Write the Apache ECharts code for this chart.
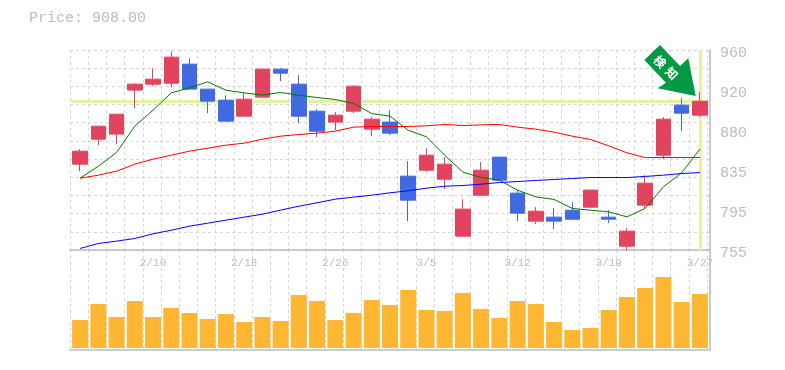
<!DOCTYPE html>
<html>
<head>
<meta charset="utf-8">
<style>html,body{margin:0;padding:0;background:#fff}#c{width:785px;height:370px}</style>
<script src="https://cdn.jsdelivr.net/npm/echarts@6/dist/echarts.min.js"></script>
</head>
<body>
<div id="c"></div>
<script>
const dates = ['2/4','2/5','2/6','2/7','2/10','2/12','2/13','2/14','2/17','2/18','2/19','2/20','2/21','2/25','2/26','2/27','2/28','3/2','3/4','3/5','3/6','3/9','3/10','3/11','3/12','3/13','3/16','3/17','3/18','3/19','3/23','3/24','3/25','3/26','3/27'];
const opens = [843.5,869.1,874.3,919.4,925.5,926.5,946,920.4,909.1,892.7,912.2,940.9,925.5,897.8,886.6,897.8,879.4,886.6,831.2,837.3,828.1,769.7,811.7,850.7,813.8,785.1,789.2,796.3,799.4,789.2,759.4,801.5,852.7,904,893.7];
const closes = [856.8,882.4,894.7,925.5,930.6,953.2,920.4,908.1,887.6,910.1,940.9,936.8,892.7,877.3,893.7,923.4,889.6,875.3,806.6,852.7,843.5,797.4,837.3,827.1,793.3,795.3,785.1,787.1,816.9,787.1,774.8,824,889.6,895.8,908];
const lows = [836.3,863,864,900.9,923.4,922.4,920.4,895.8,887.6,892.7,912.2,928.6,885.5,871.2,878.4,895.8,872.2,873.2,785.1,835.3,817.9,769.7,810.7,827.1,785.1,782,776.9,787.1,798.4,783,755,798.4,848.6,877.3,891.7];
const highs = [858.9,882.4,894.7,926.5,941.9,959.3,952.2,920.4,914.2,916.3,940.9,941.9,934.7,899.9,896.8,924.5,891.7,898.8,846.6,859.9,850.7,807.6,845.6,850.7,816.9,799.4,798.4,804.5,816.9,796.3,777.9,832.2,891.7,911.1,917.3];
const maShort = [829.1,841.4,855.5,882.4,898.8,916.6,921.7,927.9,919.3,916.6,914.2,917,914.2,911.8,909.8,905.7,895.4,892.7,878.3,871.5,852.7,835.3,829.8,827.1,816.8,810,807.3,798.1,796.3,794.6,789.5,798.1,820.3,834.6,858.9];
const maMid = [829.1,832.2,836.3,843.5,848.6,852.7,856.8,859.9,863,865,869.1,872.2,873.9,875.3,877.3,881.4,882.1,882.1,882.1,882.8,884.2,883.1,883.8,884.2,881.4,879.4,876.3,872.2,868.8,862.3,855.1,850.3,850.3,850.3,850.3];
const maLong = [757.1,762.2,764.6,767.3,772.1,775.8,779.9,783,786.1,789.2,792.2,796.4,800.4,803.9,807.6,809.7,811.7,814.1,816.2,818.9,820.9,821.6,823,824.7,825.7,826.8,827.8,828.8,829.8,829.8,829.8,830.9,832.2,833.9,834.9];
const volumes = [28,44,31,47,31,40,35,29,34,26,31,27,53,47,28,35,48,43,58,38,37,55,39,30,47,44,26,18,20,38,51,60,71,46,54];
const priceTicks = ['755','795','835','880','920','960'];
const lastPrice = 908;
const labelledDates = ['2/10','2/18','2/26','3/5','3/12','3/19','3/27'];
const arrowWords = ['検','知'];

const GRAY = '#bcbcbc', DASH = '#d6d6d6', MONO = '"Liberation Mono", monospace';
const dashed = {show:true, lineStyle:{color:DASH, type:[3,3], width:1}};
const candleData = opens.map((o,i)=>[o,closes[i],lows[i],highs[i]]);

const chart = echarts.init(document.getElementById('c'), null, {renderer:'canvas'});
const hiddenCat = {type:'category', data:dates, axisLine:{show:false}, axisTick:{show:false}, axisLabel:{show:false}, splitLine:{show:false}};
const frameX = {type:'value', min:0, max:35.16, interval:1, axisLine:{show:true, onZero:false, lineStyle:{color:GRAY, width:1.5}}, axisTick:{show:false}, axisLabel:{show:false}, splitLine:dashed};

chart.setOption({
  animation:false,
  backgroundColor:'#fff',
  title:{text:'Price: '+lastPrice.toFixed(2), left:24, top:6, textStyle:{color:GRAY, fontFamily:MONO, fontWeight:'normal', fontSize:15}},
  grid:[
    {left:71, top:50.5, width:638, height:200},
    {left:71, top:250, width:638, height:100},
    {left:70, top:50, width:640, height:200},
    {left:70, top:250, width:640, height:100},
    {left:70, top:53, width:640, height:200}
  ],
  xAxis:[
    {...hiddenCat, gridIndex:0},
    {...hiddenCat, gridIndex:1, position:'top',
      axisLabel:{show:true, inside:true, margin:8, color:GRAY, fontFamily:MONO, fontSize:11, hideOverlap:false,
        interval:(i,v)=>labelledDates.includes(v)}},
    {...frameX, gridIndex:2},
    {...frameX, gridIndex:3},
    {type:'value', gridIndex:4, min:0, max:1, show:false}
  ],
  yAxis:[
    {type:'value', gridIndex:0, min:755, max:960, scale:true, axisLine:{show:false}, axisTick:{show:false}, axisLabel:{show:false}, splitLine:{show:false}},
    {type:'value', gridIndex:1, min:-2, max:98, axisLine:{show:false}, axisTick:{show:false}, axisLabel:{show:false}, splitLine:{show:false}},
    {type:'value', gridIndex:2, position:'right', min:0, max:1, interval:1,
      axisLine:{show:true, onZero:false, lineStyle:{color:GRAY, width:1.5}}, axisTick:{show:false}, splitLine:{show:false}, axisLabel:{show:false}},
    {type:'value', gridIndex:2, position:'left', min:0, max:11, interval:1, axisLine:{show:false}, axisTick:{show:false}, axisLabel:{show:false}, splitLine:dashed},
    {type:'value', gridIndex:3, position:'right', min:0, max:1, interval:1, axisLine:{show:true, onZero:false, lineStyle:{color:GRAY, width:1.5}}, axisTick:{show:false}, axisLabel:{show:false}, splitLine:{show:false}},
    {type:'value', gridIndex:4, position:'right', min:0, max:5, interval:1, axisLine:{show:false}, axisTick:{show:false}, splitLine:{show:false},
      axisLabel:{show:true, margin:10, color:GRAY, fontFamily:MONO, fontSize:15, formatter:v=>priceTicks[v]}}
  ],
  series:[
    {type:'line', name:'guide', xAxisIndex:0, yAxisIndex:0, data:[], z:1, silent:true, symbol:'none',
      markLine:{z:1, silent:true, symbol:'none', animation:false, label:{show:false}, lineStyle:{color:'#e3f2a5', width:3, type:'solid'},
        data:[{yAxis:lastPrice},{xAxis:dates[dates.length-1]}]}},
    {type:'candlestick', name:'price', xAxisIndex:0, yAxisIndex:0, data:candleData, barWidth:15, z:3,
      itemStyle:{color:'#e2445f', color0:'#4169e1', borderColor:'#e2445f', borderColor0:'#4169e1', borderWidth:1}},
    {type:'line', name:'short', xAxisIndex:0, yAxisIndex:0, data:maShort, symbol:'none', z:4, lineStyle:{color:'#007a00', width:1}},
    {type:'line', name:'mid', xAxisIndex:0, yAxisIndex:0, data:maMid, symbol:'none', z:4, lineStyle:{color:'#ff0000', width:1}},
    {type:'line', name:'long', xAxisIndex:0, yAxisIndex:0, data:maLong, symbol:'none', z:4, lineStyle:{color:'#0000ff', width:1}},
    {type:'bar', name:'volume', xAxisIndex:1, yAxisIndex:1, data:volumes, barWidth:16, itemStyle:{color:'#ffb733'}}
  ],
  graphic:[
    {type:'polygon', z:20, shape:{points:[[660,45],[644.3,60],[666,82.7],[657.7,88.3],[695.7,96],[688.3,58.3],[680,66]]}, style:{fill:'#009944'}},
    {type:'text', z:21, x:660, y:61.7, rotation:-Math.PI/4, style:{text:arrowWords[0], fill:'#fff', font:'bold 12px "Noto Sans CJK JP"', align:'center', verticalAlign:'middle'}},
    {type:'text', z:21, x:671.7, y:73.3, rotation:-Math.PI/4, style:{text:arrowWords[1], fill:'#fff', font:'bold 12px "Noto Sans CJK JP"', align:'center', verticalAlign:'middle'}}
  ]
});
</script>
</body>
</html>
